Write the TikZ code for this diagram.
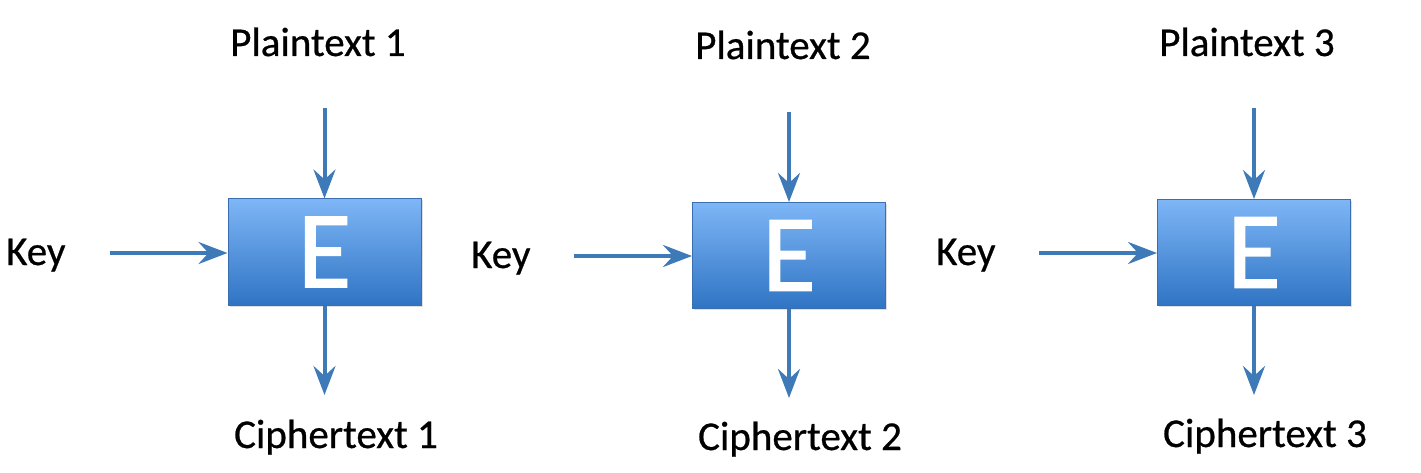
\documentclass[tikz,border=0pt]{standalone}
\usepackage{fontspec}
\setmainfont{Carlito}
\usetikzlibrary{arrows.meta,shadows}
\definecolor{arr}{HTML}{3E79B8}
\definecolor{boxtop}{HTML}{7EB6F6}
\definecolor{boxbot}{HTML}{2F74C4}
\definecolor{boxline}{HTML}{3A6EAE}
\tikzset{
  ebox/.style={draw=boxline, line width=1pt, top color=boxtop, bottom color=boxbot,
    minimum width=193pt, minimum height=106pt, inner sep=0pt,
    font=\fontsize{110}{110}\selectfont\addfontfeatures{FakeBold=1.2}, text=white,
    drop shadow={shadow xshift=1.5pt, shadow yshift=-1.5pt, opacity=0.25}},
  lbl/.style={font=\fontsize{41}{41}\selectfont\addfontfeatures{FakeBold=0.6}, inner sep=0pt, anchor=base},
  conn/.style={draw=arr, line width=4pt, -{Stealth[length=29pt,width=22pt,inset=10pt]}},
}
\begin{document}
\begin{tikzpicture}[x=1pt,y=-1pt]
\useasboundingbox (0,0) rectangle (1421,473);
% block 1
\node[ebox] (e1) at (324.5,252) {E};
\node[lbl] (p1) at (318,56) {Plaintext 1};
\node[lbl] (c1) at (336,448) {Ciphertext 1};
\node[lbl,anchor=base west] (k1) at (6,265) {Key};
\coordinate (t1) at (324.5,108);
\coordinate (b1) at (324.5,395);
\coordinate (s1) at (110,253);
% block 2
\node[ebox] (e2) at (789,255.5) {E};
\node[lbl] (p2) at (783,59) {Plaintext 2};
\node[lbl] (c2) at (800,450) {Ciphertext 2};
\node[lbl,anchor=base west] (k2) at (471,268) {Key};
\coordinate (t2) at (789,112);
\coordinate (b2) at (789,398);
\coordinate (s2) at (574,256);
% block 3
\node[ebox] (e3) at (1254,252.5) {E};
\node[lbl] (p3) at (1247,56) {Plaintext 3};
\node[lbl] (c3) at (1265,447) {Ciphertext 3};
\node[lbl,anchor=base west] (k3) at (936,265) {Key};
\coordinate (t3) at (1254,108);
\coordinate (b3) at (1254,395);
\coordinate (s3) at (1039,253);
% connectors
\draw[conn] (t1) -- (e1.north);
\draw[conn] (e1.south) -- (b1);
\draw[conn] (s1) -- (s1 -| e1.west);
\draw[conn] (t2) -- (e2.north);
\draw[conn] (e2.south) -- (b2);
\draw[conn] (s2) -- (s2 -| e2.west);
\draw[conn] (t3) -- (e3.north);
\draw[conn] (e3.south) -- (b3);
\draw[conn] (s3) -- (s3 -| e3.west);
\end{tikzpicture}
\end{document}
